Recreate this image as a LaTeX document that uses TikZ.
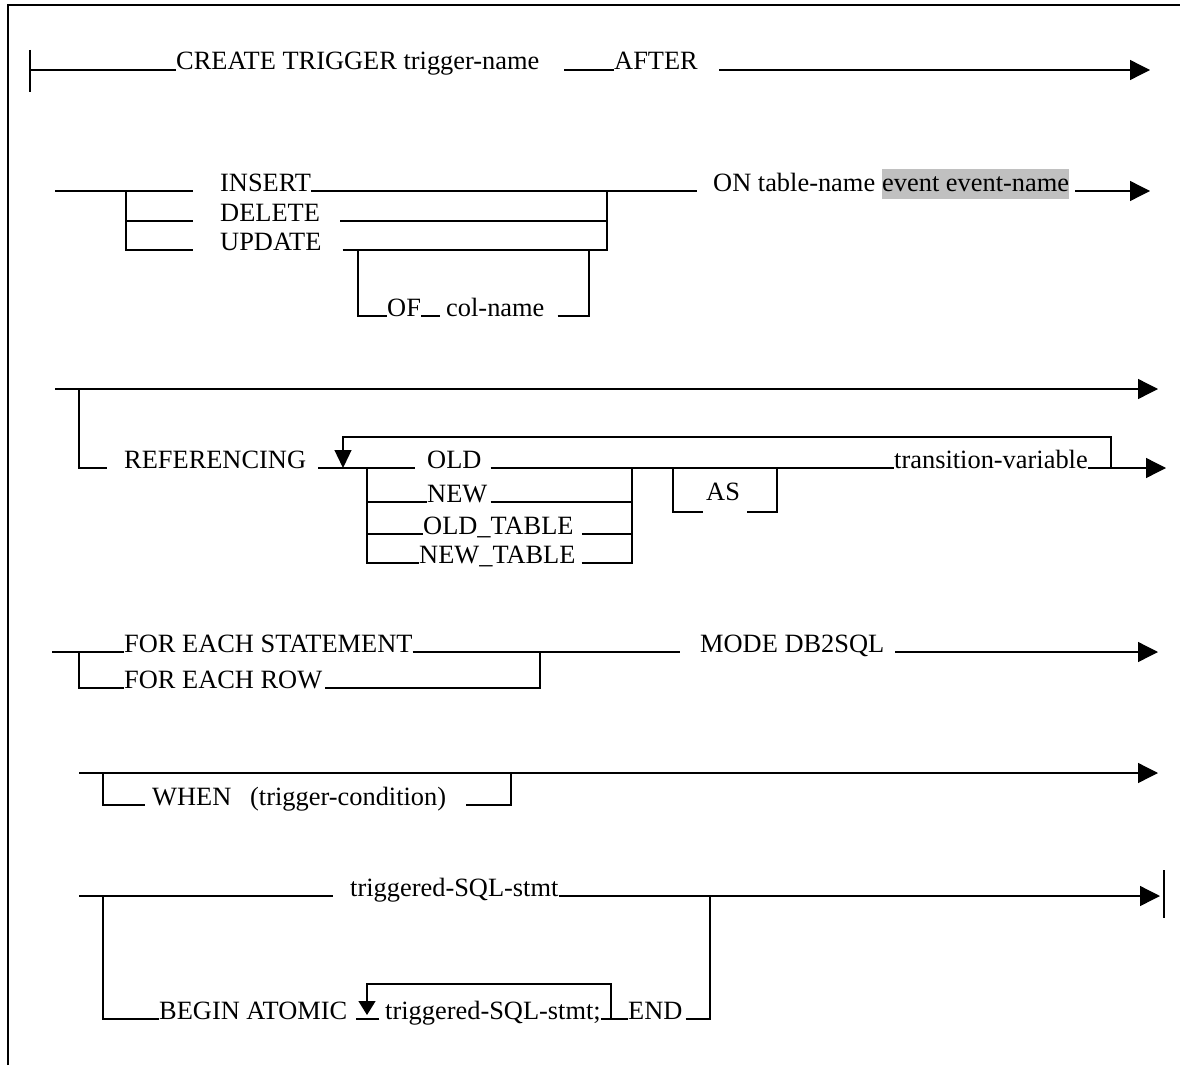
\documentclass[tikz,border=0pt]{standalone}
\usepackage{fontspec}
\setmainfont{Liberation Serif}
\usetikzlibrary{arrows.meta}
\definecolor{hl}{HTML}{C0C0C0}
\begin{document}
\begin{tikzpicture}[x=1pt,y=-1pt,
  rr/.style={line width=1.3pt, line cap=butt, line join=miter},
  lbl/.style={anchor=base west, inner sep=0pt, font=\fontsize{26.4}{30}\selectfont},
  arr/.style={rr,-{Triangle[length=20pt,width=20pt]}},
  darr/.style={rr,-{Triangle[length=18pt,width=17pt]}},
  sarr/.style={rr,-{Triangle[length=14pt,width=17pt]}}]
\useasboundingbox (0,0) rectangle (1180,1065);
% frame
\draw[rr] (8,1065) -- (8,5) -- (1180,5);

% ---------- row 1
\node[lbl] (create) at (176,70) {CREATE TRIGGER trigger-name};
\node[lbl] (after) at (614,70) {AFTER};
\coordinate (r1s) at (30,70);
\coordinate (r1e) at (1150,70);
\draw[rr] (30,50) -- (30,92);
\draw[rr] (r1s) -- (create.base west);
\draw[rr] (564,70) -- (after.base west);
\draw[arr] ([xshift=21pt]after.base east) -- (r1e);

% ---------- row 2
\node[lbl] (insert) at (220,191) {INSERT};
\node[lbl] (delete) at (220,221) {DELETE};
\node[lbl] (update) at (220,250) {UPDATE};
\node[lbl] (on) at (713,191) {ON table-name};
\node[lbl, fill=hl, text height=22pt, text depth=8pt] (ev) at ([xshift=6.6pt]on.base east) {event event-name};
\node[lbl] (of) at (387,316) {OF};
\node[lbl] (col) at (446,316) {col-name};
\coordinate (r2e) at (1150,191);
\draw[rr] (55,191) -- (193,191);
\draw[rr] (126,191) -- (126,250) -- (193,250);
\draw[rr] (126,221) -- (193,221);
\draw[rr] (insert.base east) -- (697,191);
\draw[rr] ([xshift=20pt]delete.base east) -- (607,221);
\draw[rr] ([xshift=21pt]update.base east) -- (607,250) -- (607,191);
\draw[arr] ([xshift=6pt]ev.base east) -- (r2e);
\draw[rr] (358,250) -- (358,316) -- (of.base west);
\draw[rr] (of.base east) -- (440,316);
\draw[rr] ([xshift=13pt]col.base east) -- (589,316) -- (589,250);

% ---------- row 3
\node[lbl] (ref) at (124,468) {REFERENCING};
\node[lbl] (old) at (427,468) {OLD};
\node[lbl] (new) at (427,502) {NEW};
\node[lbl] (oldt) at (423,534) {OLD\_TABLE};
\node[lbl] (newt) at (419,563) {NEW\_TABLE};
\node[lbl] (as) at (706,500) {AS};
\node[lbl] (tv) at (894,468) {transition-variable};
\coordinate (r3e) at (1158,389);
\coordinate (r3e2) at (1166,468);
\draw[arr] (55,389) -- (r3e);
\draw[rr] (79,389) -- (79,468) -- (107,468);
\draw[rr] ([xshift=12pt]ref.base east) -- (415,468);
\draw[darr] (1111,468) -- (1111,437) -- (343,437) -- (343,468);
\draw[rr] (367,468) -- (367,563) -- (newt.base west);
\draw[rr] (367,502) -- (new.base west);
\draw[rr] (367,534) -- (oldt.base west);
\draw[rr] ([xshift=9pt]old.base east) -- (tv.base west);
\draw[rr] ([xshift=3pt]new.base east) -- (632,502);
\draw[rr] ([xshift=8pt]oldt.base east) -- (632,534);
\draw[rr] ([xshift=6pt]newt.base east) -- (632,563) -- (632,468);
\draw[rr] (673,468) -- (673,512) -- (703,512);
\draw[rr] (747,512) -- (777,512) -- (777,468);
\draw[arr] (tv.base east) -- (r3e2);

% ---------- row 4
\node[lbl] (fes) at (124,652) {FOR EACH STATEMENT};
\node[lbl] (fer) at (124,688) {FOR EACH ROW};
\node[lbl] (mode) at (700,652) {MODE DB2SQL};
\coordinate (r4e) at (1158,652);
\draw[rr] (52,652) -- (fes.base west);
\draw[rr] (79,652) -- (79,688) -- (fer.base west);
\draw[rr] (fes.base east) -- (680,652);
\draw[rr] ([xshift=3pt]fer.base east) -- (540,688) -- (540,652);
\draw[arr] ([xshift=11pt]mode.base east) -- (r4e);

% ---------- row 5
\node[lbl] (when) at (152,805) {WHEN};
\node[lbl] (cond) at (250,805) {(trigger-condition)};
\coordinate (r5e) at (1158,773);
\draw[arr] (79,773) -- (r5e);
\draw[rr] (103,773) -- (103,805) -- (145,805);
\draw[rr] ([xshift=20pt]cond.base east) -- (511,805) -- (511,773);

% ---------- row 6
\node[lbl] (tsql) at (350,896) {triggered-SQL-stmt};
\node[lbl] (begin) at (159,1019) {BEGIN ATOMIC};
\node[lbl] (tsql2) at (385,1019) {triggered-SQL-stmt;};
\node[lbl] (endk) at (628,1019) {END};
\coordinate (r6e) at (1160,896);
\draw[rr] (79,896) -- (333,896);
\draw[arr] (tsql.base east) -- (r6e);
\draw[rr] (1164,870) -- (1164,918);
\draw[rr] (103,896) -- (103,1019) -- (begin.base west);
\draw[sarr] (611,1019) -- (611,984) -- (367,984) -- (367,1015);
\draw[rr] (356,1019) -- (379,1019);
\draw[rr] (tsql2.base east) -- (endk.base west);
\draw[rr] ([xshift=3pt]endk.base east) -- (710,1019) -- (710,896);
\end{tikzpicture}
\end{document}
